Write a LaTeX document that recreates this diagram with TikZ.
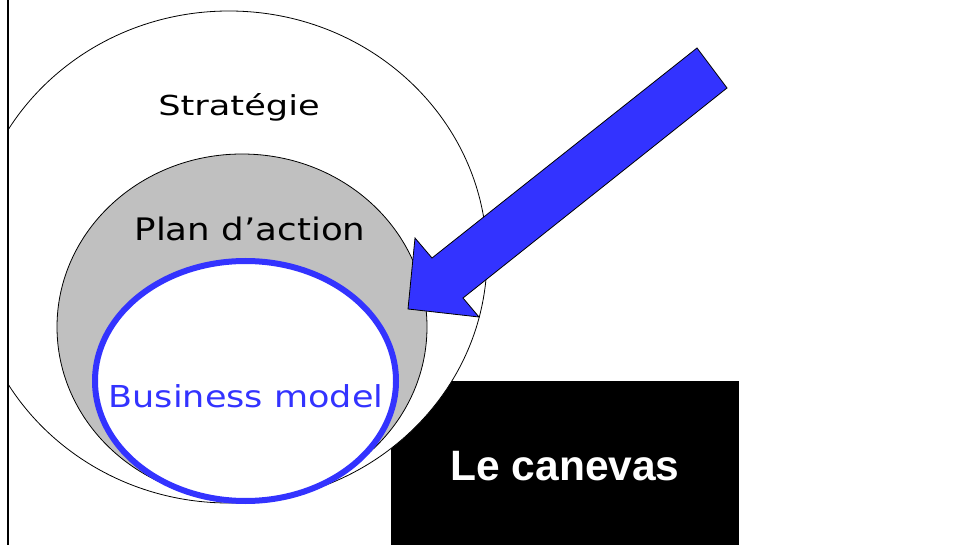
\documentclass[tikz,border=0pt]{standalone}
\usepackage{fontspec}
\newfontfamily\labelfont{DejaVu Sans}
\newfontfamily\boxfont{Liberation Sans}
\definecolor{bmblue}{RGB}{51,51,255}
\definecolor{plangray}{RGB}{192,192,192}
\begin{document}
\begin{tikzpicture}[x=1pt,y=-1pt,
  lbl/.style={inner sep=0pt, anchor=base},
  thinline/.style={draw=black, line width=0.8pt}]
\useasboundingbox (0,0) rectangle (956,545);
\fill[white] (0,0) rectangle (956,545);
% black box
\node[fill=black, minimum width=348pt, minimum height=170pt, anchor=north west, inner sep=0pt] (box) at (391,381) {};
% strategy ellipse, clipped at the left line
\begin{scope}
  \clip (8,-5) rectangle (960,550);
  \filldraw[thinline, fill=white] (229,257) ellipse [x radius=258pt, y radius=246pt];
\end{scope}
% plan d'action ellipse
\filldraw[thinline, fill=plangray] (242,327) ellipse [x radius=185pt, y radius=173pt];
% business model ellipse
\filldraw[fill=white, draw=bmblue, line width=6pt] (245.5,381) ellipse [x radius=150.5pt, y radius=120pt];
% arrow
\filldraw[thinline, fill=bmblue, line join=miter] (697,48) -- (727,88) -- (463,298) -- (479,317) -- (408,309) -- (415,238) -- (432,258) -- cycle;
% left line
\draw[line width=2.5pt] (8,-2) -- (8,547);
% texts
\node[lbl] (strat) at (239,116) {\labelfont\fontsize{27.5}{30}\selectfont\scalebox{1.28}[1]{Stratégie}};
\node[lbl] (plan) at (250,241) {\labelfont\fontsize{31}{34}\selectfont\scalebox{1.15}[1]{Plan d’action}};
\node[lbl, text=bmblue] (bm) at (246,407) {\labelfont\fontsize{30.2}{33}\selectfont\scalebox{1.16}[1]{Business model}};
\node[lbl, text=white] (canevas) at (565,480) {\boxfont\bfseries\fontsize{42.5}{46}\selectfont Le canevas};
\end{tikzpicture}
\end{document}
